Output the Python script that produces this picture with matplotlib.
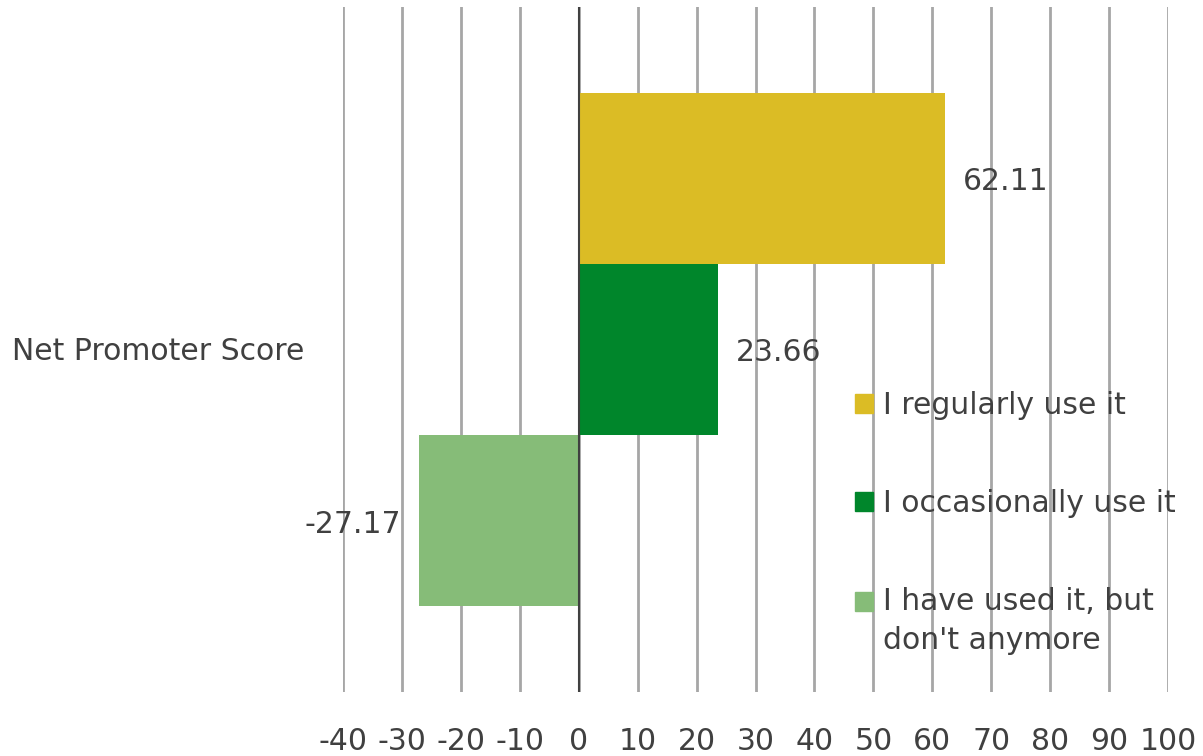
import matplotlib.pyplot as plt
from matplotlib.patches import Patch, Rectangle
from matplotlib.legend_handler import HandlerPatch

# data
category = "Net Promoter Score"
series = ["I regularly use it", "I occasionally use it", "I have used it, but\ndon't anymore"]
values = [62.11, 23.66, -27.17]
colors = ["#DBBC25", "#00862B", "#86BC78"]
ticks = list(range(-40, 101, 10))

plt.rcParams['font.family'] = ['DejaVu Sans']
txt = "#404040"
fs = 21.5

fig = plt.figure(figsize=(12.03, 7.56), dpi=100)
ax = fig.add_axes([343 / 1203, 1 - 692 / 756, (1168 - 343) / 1203, (692 - 7) / 756])

ypos = [2, 1, 0]
for y, v, c, s in zip(ypos, values, colors, series):
    ax.barh(y, v, height=1.0, color=c, label=s, zorder=2)
    if v >= 0:
        ax.text(v + 3.0, y - 0.02, f"{v:.2f}", ha="left", va="center", fontsize=fs, color=txt)
    else:
        ax.text(v - 3.0, y - 0.02, f"{v:.2f}", ha="right", va="center", fontsize=fs, color=txt)

ax.set_xlim(-40, 100)
ax.set_ylim(-1.0, 3.0)
ax.set_xticks(ticks)
ax.set_xticklabels([str(t) for t in ticks], fontsize=fs, color=txt)
ax.tick_params(axis="x", length=0, pad=25)
ax.set_yticks([])
ax.grid(axis="x", color="#A6A6A6", linewidth=2, zorder=0)
ax.axvline(0, color="#404040", linewidth=1.5, zorder=3)
for sp in ax.spines.values():
    sp.set_visible(False)

fig.text(12 / 1203, 1 - 352 / 756, category, ha="left", va="center", fontsize=fs, color=txt)


# put the square of the two-line entry next to its first line
def top_square(legend, orig_handle, xdescent, ydescent, width, height, fontsize):
    return Rectangle((-xdescent, -ydescent + 0.68 * fontsize), width, height)


handles = [Patch(facecolor=c, edgecolor=c) for c in colors]
leg = ax.legend(handles, series, loc="upper left", bbox_to_anchor=(0.588, 0.478),
                frameon=False, fontsize=fs, labelcolor=txt, handlelength=0.6,
                handleheight=0.6, handletextpad=0.35, labelspacing=2.3,
                handler_map={handles[2]: HandlerPatch(patch_func=top_square)})
for t in leg.get_texts():
    t.set_linespacing(1.45)

fig.savefig("out.png", dpi=100)
